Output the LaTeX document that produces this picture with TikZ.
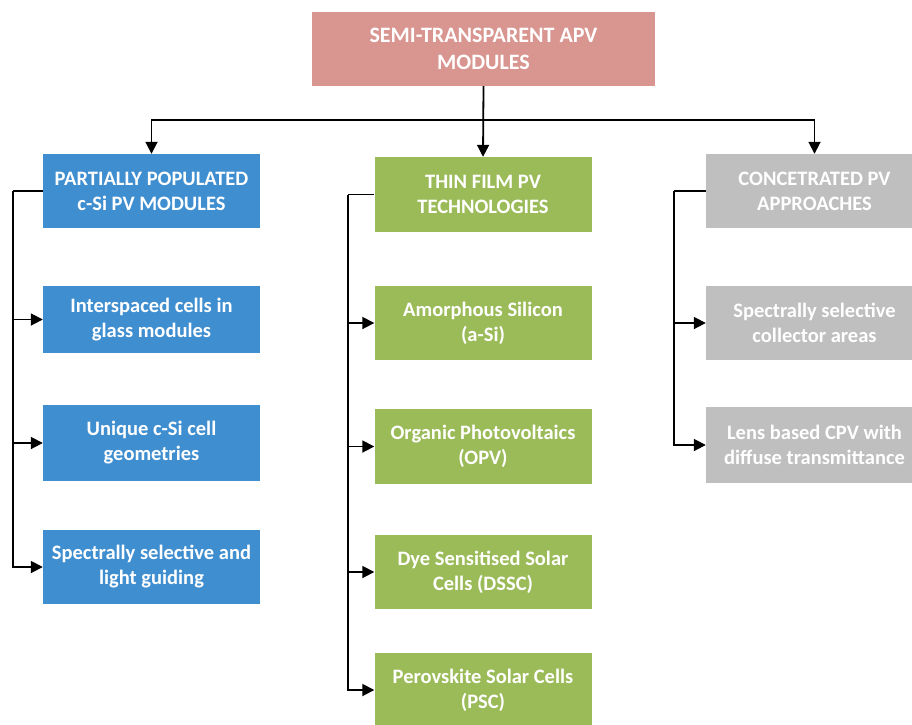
\documentclass[tikz,border=0pt]{standalone}
\usepackage{fontspec}
\setmainfont{Carlito}
\usetikzlibrary{arrows.meta}
\definecolor{cpink}{HTML}{D9958F}
\definecolor{cblue}{HTML}{3F8ED0}
\definecolor{cgreen}{HTML}{9BBB59}
\definecolor{cgray}{HTML}{BFBFBF}
\tikzset{
  box/.style={rectangle, minimum width=217pt, minimum height=74pt, inner sep=0pt, align=center,
    text=white, font=\fontsize{20.5}{25}\selectfont\bfseries},
  bluebox/.style={box, fill=cblue},
  greenbox/.style={box, fill=cgreen},
  graybox/.style={box, fill=cgray},
  conn/.style={draw=black, line width=1.8pt},
  arr/.style={conn, -{Triangle[length=12pt,width=12pt]}}
}
\begin{document}
\begin{tikzpicture}[x=1pt,y=-1pt]
\useasboundingbox (0,0) rectangle (912,724);
\clip (0,0) rectangle (912,724);
\fill[white] (0,0) rectangle (912,724);
% top
\node[box, fill=cpink, minimum width=343pt, font=\fontsize{22}{27}\selectfont\bfseries] (top) at (483.5,49) {SEMI-TRANSPARENT APV\\MODULES};
% headers
\node[bluebox] (lh) at (151.5,191) {PARTIALLY POPULATED\\c-Si PV MODULES};
\node[greenbox, minimum height=75pt] (mh) at (483,194.5) {THIN FILM PV\\TECHNOLOGIES};
\node[graybox] (rh) at (814.5,191) {CONCETRATED PV\\APPROACHES};
% left children
\node[bluebox, minimum height=67pt] (l1) at (151.5,319.5) {Interspaced cells in\\glass modules};
\node[bluebox, minimum height=76pt] (l2) at (151.5,443) {Unique c-Si cell\\geometries};
\node[bluebox] (l3) at (151.5,567) {Spectrally selective and\\light guiding};
% middle children
\node[greenbox] (m1) at (483,323) {Amorphous Silicon\\(a-Si)};
\node[greenbox, minimum height=75pt] (m2) at (483,446.5) {Organic Photovoltaics\\(OPV)};
\node[greenbox] (m3) at (483,572) {Dye Sensitised Solar\\Cells (DSSC)};
\node[greenbox] (m4) at (483,690) {Perovskite Solar Cells\\(PSC)};
% right children
\node[graybox] (r1) at (814.5,323) {Spectrally selective\\collector areas};
\node[graybox, minimum height=76pt] (r2) at (814.5,445) {Lens based CPV with\\diffuse transmittance};
% top connectors
\coordinate (hb) at (483.5,120);
\draw[arr] (top.south) -- (mh.north);
\draw[arr] (hb) -| (lh.north);
\draw[arr] (hb) -| (rh.north);
% left trunk
\draw[conn] (lh.west) -- ++(-30,0) coordinate (lt);
\draw[arr] (lt) |- (l3.west);
\draw[arr] (lt |- l1.west) -- (l1.west);
\draw[arr] (lt |- l2.west) -- (l2.west);
% middle trunk
\draw[conn] (mh.west) -- ++(-26,0) coordinate (mt);
\draw[arr] (mt) |- (m4.west);
\draw[arr] (mt |- m1.west) -- (m1.west);
\draw[arr] (mt |- m2.west) -- (m2.west);
\draw[arr] (mt |- m3.west) -- (m3.west);
% right trunk
\draw[conn] (rh.west) -- ++(-32,0) coordinate (rt);
\draw[arr] (rt) |- (r2.west);
\draw[arr] (rt |- r1.west) -- (r1.west);
\end{tikzpicture}
\end{document}
